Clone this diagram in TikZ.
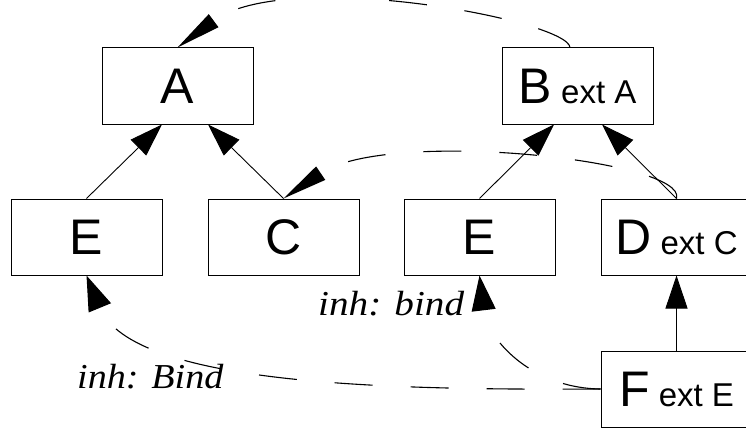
\documentclass[tikz,border=0pt]{standalone}
\usepackage{fontspec}
\setmainfont{Liberation Sans}
\newfontfamily\labelserif{Liberation Serif}
\usepackage{graphicx}
\usetikzlibrary{arrows.meta}
\begin{document}
\begin{tikzpicture}[x=1pt,y=-1pt,
  box/.style={draw, line width=1pt, rectangle, minimum width=151pt, minimum height=76pt, inner sep=0pt,
    font=\fontsize{50}{50}\selectfont},
  inhlabel/.style={anchor=base west, inner sep=0pt, font=\fontsize{35}{35}\selectfont},
  solidarrow/.style={line width=0.9pt, -{Triangle[length=33pt,width=22pt]}},
  slimdash/.style={line width=1.1pt, dash pattern=on 38pt off 38pt, -{Triangle[length=45pt,width=16pt]}},
  widedash/.style={line width=1.1pt, dash pattern=on 38pt off 38pt, -{Triangle[length=35pt,width=24pt]}}
]
\clip (0,0) rectangle (746,428);
\fill[white] (0,0) rectangle (746,428);

\node[box] (A)  at (177.5,86) {A};
\node[box] (B)  at (577.5,86) {B{\fontsize{33}{33}\selectfont\ ext A}};
\node[box] (E1) at (86.5,237) {E};
\node[box] (C)  at (283.5,237) {C};
\node[box] (E2) at (479.5,237) {E};
\node[box] (D)  at (676.5,237) {D{\fontsize{33}{33}\selectfont\ ext C}};
\node[box] (F)  at (676.5,389) {F{\fontsize{33}{33}\selectfont\ ext E}};

\draw[solidarrow] (E1.north) -- ([xshift=-15.5pt]A.south);
\draw[solidarrow] (C.north) -- ([xshift=30.5pt]A.south);
\draw[solidarrow] (E2.north) -- ([xshift=-23.5pt]B.south);
\draw[solidarrow] (D.north) -- ([xshift=24.5pt]B.south);
\draw[solidarrow] (F.north) -- (D.south);

\draw[slimdash] ([xshift=-7.5pt]B.north) .. controls (568,20) and (286,-33) .. (A.north);
\draw[slimdash] (D.north) .. controls (688,160) and (387,128) .. (C.north);
\draw[widedash] (F.west) .. controls (400,390) and (132.5,387) .. (E1.south);
\draw[widedash] (F.west) .. controls (530,388) and (487,338) .. (E2.south);

\node[inhlabel] (L1) at (318,315) {\scalebox{1.12}[1]{\labelserif\itshape inh: bind}};
\node[inhlabel] (L2) at (77,388) {\scalebox{1.09}[1]{\labelserif\itshape inh: Bind}};
\end{tikzpicture}
\end{document}
